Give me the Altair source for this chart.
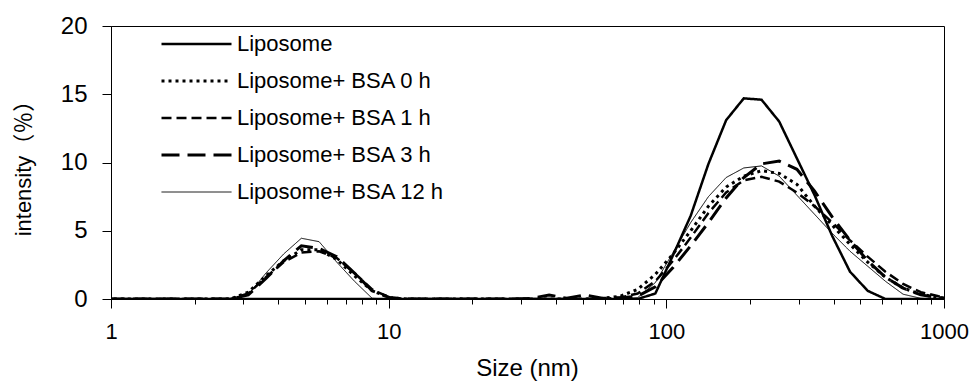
import altair as alt
import pandas as pd

# DLS size bins (nm)
sizes = [0.9649, 1.117, 1.294, 1.499, 1.736, 2.010, 2.328, 2.696,
         3.122, 3.615, 4.187, 4.849, 5.615, 6.503, 7.531, 8.721,
         10.10, 11.70, 13.54, 15.69, 18.17, 21.04, 24.36, 28.21,
         32.67, 37.84, 43.82, 50.75, 58.77, 68.06, 78.82, 91.28,
         105.7, 122.4, 141.8, 164.2, 190.1, 220.2, 255.0, 295.3,
         342.0, 396.1, 458.7, 531.2, 615.1, 712.4, 825.0, 955.4,
         1106.0]

series_names = ["Liposome", "Liposome+ BSA 0 h", "Liposome+ BSA 1 h",
                "Liposome+ BSA 3 h", "Liposome+ BSA 12 h"]

liposome = [0, 0, 0, 0, 0, 0, 0, 0,
            0, 0, 0, 0, 0, 0, 0, 0,
            0, 0, 0, 0, 0, 0, 0, 0,
            0, 0, 0, 0, 0, 0, 0, 0.4,
            3.2, 6.1, 9.9, 13.1, 14.7, 14.6, 13.0, 10.3,
            7.6, 4.6, 2.0, 0.6, 0, 0, 0, 0,
            0]
bsa_0h = [0, 0, 0, 0, 0, 0, 0, 0,
          0.5, 1.7, 2.8, 3.6, 3.6, 2.9, 1.7, 0.6,
          0.1, 0, 0, 0, 0, 0, 0, 0,
          0, 0, 0, 0, 0.05, 0.2, 0.7, 1.8,
          3.3, 5.0, 6.8, 8.2, 9.0, 9.4, 9.2, 8.4,
          6.8, 5.4, 4.0, 2.7, 1.6, 0.8, 0.35, 0.1,
          0]
bsa_1h = [0, 0, 0, 0, 0, 0, 0, 0,
          0.4, 1.6, 2.7, 3.4, 3.5, 3.0, 1.9, 0.7,
          0.1, 0, 0, 0, 0, 0, 0, 0,
          0, 0, 0, 0, 0, 0.1, 0.4, 1.3,
          2.8, 4.5, 6.3, 7.8, 8.7, 8.95, 8.6, 7.8,
          6.8, 5.6, 4.3, 3.1, 2.0, 1.1, 0.5, 0.2,
          0]
bsa_3h = [0, 0, 0, 0, 0, 0, 0, 0,
          0.3, 1.5, 2.8, 3.9, 3.7, 3.1, 1.9, 0.6,
          0.1, 0, 0, 0, 0, 0, 0, 0,
          0.05, 0.3, 0.05, 0.3, 0.05, 0.1, 0.2, 0.9,
          2.3, 3.9, 5.6, 7.4, 8.9, 9.9, 10.1, 9.5,
          7.9, 6.0, 4.3, 2.8, 1.6, 0.8, 0.3, 0.1,
          0]
bsa_12h = [0, 0, 0, 0, 0, 0, 0, 0,
           0.3, 1.9, 3.3, 4.45, 4.2, 2.7, 1.3, 0.05,
           0, 0, 0, 0, 0, 0, 0, 0,
           0, 0, 0, 0, 0, 0, 0.1, 1.2,
           3.4, 5.6, 7.5, 8.9, 9.6, 9.75, 9.0, 7.6,
           6.2, 4.8, 3.5, 2.4, 1.3, 0.35, 0.05, 0,
           0]

series_values = [liposome, bsa_0h, bsa_1h, bsa_3h, bsa_12h]

x_ticks = [1, 2, 3, 4, 5, 6, 7, 8, 9, 10, 20, 30, 40, 50, 60, 70, 80, 90,
           100, 200, 300, 400, 500, 600, 700, 800, 900, 1000]
x_labeled = [1, 10, 100, 1000]
y_ticks = [0, 5, 10, 15, 20]

rows = []
for name, vals in zip(series_names, series_values):
    for s, v in zip(sizes, vals):
        rows.append({"size": s, "intensity": v, "series": name})
df = pd.DataFrame(rows)

FONT = "Liberation Sans, Arial, Noto Sans CJK JP"

dashes = [[1, 0], [3, 4], [10, 5], [18, 8], [1, 0]]
widths = [2.5, 3.0, 2.5, 3.0, 1.0]

legend = alt.Legend(orient="none", legendX=49, legendY=7, title=None,
                    symbolType="stroke", symbolSize=4900, symbolStrokeColor="black",
                    labelFontSize=22, labelFont=FONT, labelColor="black",
                    labelOffset=4, labelLimit=400, clipHeight=22, rowPadding=15,
                    padding=0)

labeled_test = "indexof([" + ",".join(str(v) for v in x_labeled) + "], datum.value) >= 0"

chart = alt.Chart(df).mark_line(color="black", clip=True).encode(
    x=alt.X("size:Q", scale=alt.Scale(type="log", domain=[1, 1000]),
            axis=alt.Axis(values=x_ticks, format="d",
                          labelExpr=labeled_test + " ? datum.label : ''",
                          tickSize={"condition": {"test": labeled_test, "value": 9}, "value": 5},
                          labelOverlap=False, labelFlush=False,
                          labelPadding=13, labelFontSize=22,
                          title="Size  (nm)", titleFontSize=24, titleFontWeight="normal",
                          titleX=416, titleY=76, titleBaseline="alphabetic")),
    y=alt.Y("intensity:Q", scale=alt.Scale(domain=[0, 20]),
            axis=alt.Axis(values=y_ticks, tickSize=9, labelPadding=15,
                          labelFontSize=24, title="intensity（％）",
                          titleFontSize=22, titleFontWeight="normal",
                          titleX=-88, titleY=136.5, titleBaseline="middle")),
    strokeDash=alt.StrokeDash("series:N",
                              scale=alt.Scale(domain=series_names, range=dashes),
                              legend=legend),
    strokeWidth=alt.StrokeWidth("series:N",
                                scale=alt.Scale(type="ordinal", domain=series_names,
                                                range=widths),
                                legend=legend),
).properties(
    width=833, height=273,
    autosize=alt.AutoSizeParams(type="none"),
    padding={"left": 111, "top": 26, "right": 35, "bottom": 88},
).configure_view(stroke="black", strokeWidth=1).configure_axis(
    grid=False, domainColor="black", tickColor="black", labelColor="black",
    titleColor="black", labelFont=FONT, titleFont=FONT, titleFontWeight="normal",
    domainWidth=1, tickWidth=1,
)

chart.save("out.html", embed_options={"renderer": "svg", "actions": False})
